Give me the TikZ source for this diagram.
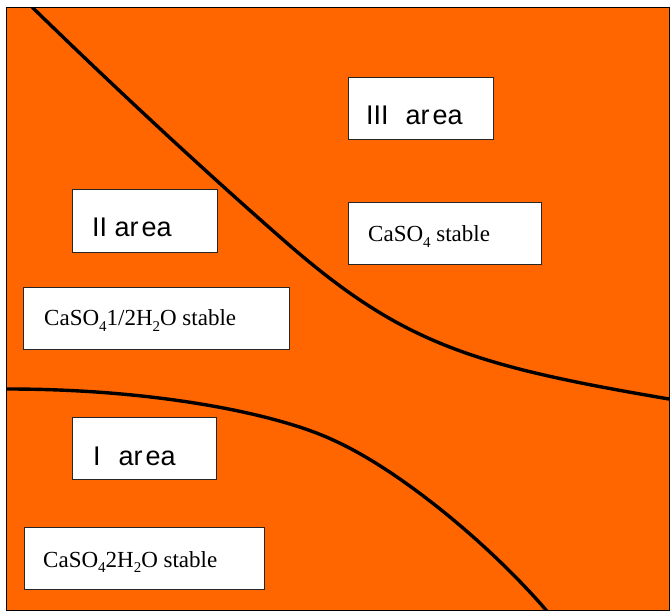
\documentclass[tikz,border=0pt]{standalone}
\usepackage{fontspec}
\setmainfont{Liberation Serif}
\newfontfamily\arialfont{Liberation Sans}
\definecolor{bgorange}{HTML}{FF6600}
\newcommand\lowidx[1]{\raisebox{-0.25em}{\fontsize{15}{15}\selectfont #1}}
\begin{document}
\begin{tikzpicture}[x=1pt,y=-1pt,
  lbox/.style={draw=black!85,line width=1.2pt,fill=white,rectangle,inner sep=0pt,anchor=north west},
  areatxt/.style={font=\arialfont\fontsize{27}{27}\selectfont,anchor=base west,inner sep=0pt},
  phasetxt/.style={font=\fontsize{23}{23}\selectfont,anchor=base west,inner sep=0pt},
  boundary/.style={line width=3.4pt,black}]
\useasboundingbox (0,0) rectangle (670,612);
\draw[fill=bgorange,line width=1pt] (6,8) rectangle (669,610);
\begin{scope}
\clip (6,8) rectangle (669,610);
\draw[boundary] (30,4) -- (33,8) .. controls (110,83) and (200,167) .. (280,237)
   .. controls (400,343) and (469,365) .. (669,399) -- (680,401);
\draw[boundary] (0,389) -- (7,389) .. controls (160,389) and (280,415) .. (333,440)
   .. controls (400,470) and (490,545) .. (546,610) -- (548,613);
\end{scope}
% boxes
\node[lbox,minimum width=145pt,minimum height=62pt] (b3) at (348,77) {};
\node[lbox,minimum width=193pt,minimum height=62pt] (p3) at (348,202) {};
\node[lbox,minimum width=145pt,minimum height=63pt] (b2) at (72,189) {};
\node[lbox,minimum width=266pt,minimum height=62pt] (p2) at (23,287) {};
\node[lbox,minimum width=144pt,minimum height=62pt] (b1) at (72,417) {};
\node[lbox,minimum width=240pt,minimum height=62pt] (p1) at (24,527) {};
% texts
\node[areatxt] (t3) at (366,125) {III\hspace{17pt}{\spaceskip=3pt\relax ar ea}};
\node[areatxt] (t2) at (92,237) {II {\spaceskip=3pt\relax ar ea}};
\node[areatxt] (t1) at (93,465) {I\hspace{18pt}{\spaceskip=3pt\relax ar ea}};
\node[phasetxt] (s3) at (368,242) {CaSO\lowidx{4} stable};
\node[phasetxt] (s2) at (44,326) {CaSO\lowidx{4}1/2H\lowidx{2}O stable};
\node[phasetxt] (s1) at (43,567) {CaSO\lowidx{4}2H\lowidx{2}O stable};
\end{tikzpicture}
\end{document}
